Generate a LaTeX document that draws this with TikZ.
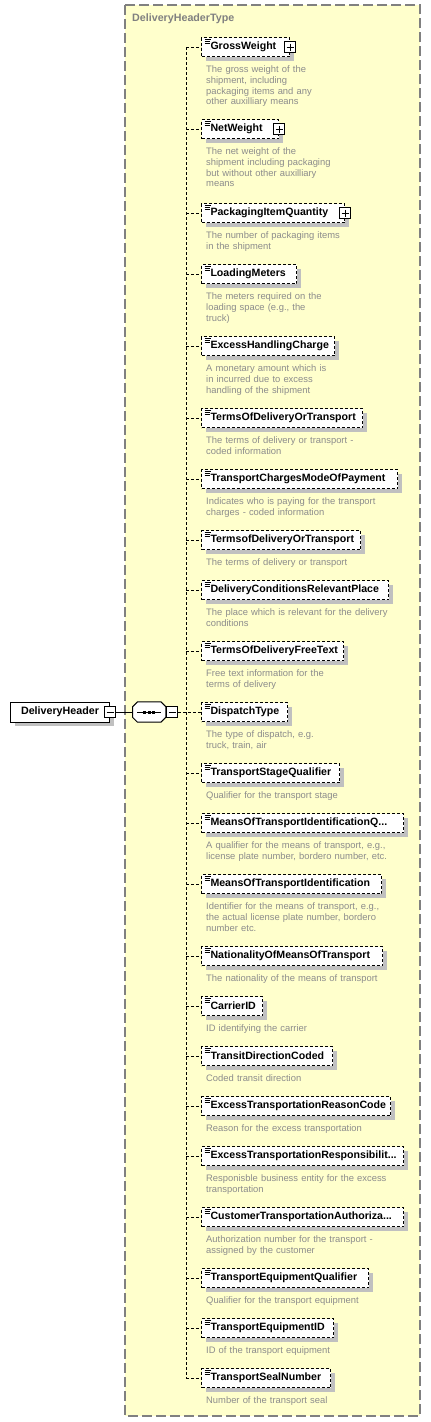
\documentclass[tikz,border=0pt]{standalone}
\usepackage{fontspec}
\newfontfamily\diafont{Liberation Sans}
\usetikzlibrary{
  positioning,
  shadows
}
\definecolor{TypeYellow}{RGB}{255,255,204}
\definecolor{FrameGray}{RGB}{128,128,128}
\definecolor{ShadowGray}{RGB}{192,192,192}
\definecolor{DocGray}{RGB}{140,140,140}
\tikzset{
  boxshadow/.style={
    drop shadow={shadow xshift=4pt, shadow yshift=-4pt, fill=ShadowGray, opacity=1}
  },
  typebox/.style={draw=FrameGray, fill=TypeYellow, line width=1.3pt, dash pattern=on 10pt off 4pt},
  typelabel/.style={anchor=base west, inner sep=0pt, text=FrameGray,
    font=\diafont\bfseries\fontsize{10.7pt}{13pt}\selectfont},
  rootbox/.style={
    draw,
    fill=white,
    line width=1pt,
    minimum width=99pt,
    minimum height=20pt,
    inner sep=0pt,
    font=\diafont\bfseries\fontsize{10.7pt}{13pt}\selectfont,
    boxshadow
  },
  elembox/.style={
    draw,
    line width=1pt,
    dash pattern=on 3pt off 2pt,
    fill=white,
    anchor=west,
    minimum height=19pt,
    inner xsep=9pt,
    inner ysep=0pt,
    align=left,
    font=\diafont\bfseries\fontsize{10.6pt}{13pt}\selectfont,
    boxshadow,
    path picture={
      \draw[solid, line width=0.8pt]
        ([xshift=3pt, yshift=-1.5pt]path picture bounding box.north west) -- ++(6pt,0pt)
        ([xshift=3pt, yshift=-3.5pt]path picture bounding box.north west) -- ++(5pt,0pt)
        ([xshift=3pt, yshift=-5.5pt]path picture bounding box.north west) -- ++(5pt,0pt);
    }
  },
  docnote/.style={anchor=base west, inner sep=0pt, text width=215pt, align=left, text=DocGray,
    font=\diafont\fontsize{9.4pt}{10.8pt}\selectfont},
  plusbox/.style={
    draw, solid, fill=white, line width=1pt, minimum size=11pt, inner sep=0pt,
    path picture={
      \draw[line width=1pt]
        ([xshift=2pt]path picture bounding box.west) -- ([xshift=-2pt]path picture bounding box.east)
        ([yshift=-2pt]path picture bounding box.north) -- ([yshift=2pt]path picture bounding box.south);
    }
  },
  minusbox/.style={
    draw, solid, fill=white, line width=1pt, minimum size=11pt, inner sep=0pt,
    path picture={
      \draw[line width=1pt]
        ([xshift=2pt]path picture bounding box.west) -- ([xshift=-2pt]path picture bounding box.east);
    }
  },
  seqbox/.style={minimum width=33pt, minimum height=20pt, inner sep=0pt},
  octagon/.style={line width=1pt},
  solidlink/.style={draw, line width=1pt},
  dashlink/.style={draw, line width=1pt, dash pattern=on 3pt off 2pt}
}
\begin{document}
\begin{tikzpicture}[x=1pt, y=-1pt]
  \useasboundingbox (0,0) rectangle (431,1422);
  \draw[typebox] (125,5) rectangle (420,1416);
  \node[typelabel] (typename) at (132,21) {DeliveryHeaderType};

  % root element and sequence
  \node[rootbox, anchor=west] (header) at (10,712) {DeliveryHeader};
  \node[minusbox] (headerminus) at (header.east) {};
  \node[seqbox, right=16.5pt of headerminus] (seq) {};
  \fill[ShadowGray, shift={(4,4)}]
    ([xshift=5pt]seq.north west) -- ([xshift=-5pt]seq.north east) -- ([yshift=-5pt]seq.north east)
    -- ([yshift=5pt]seq.south east) -- ([xshift=-5pt]seq.south east) -- ([xshift=5pt]seq.south west)
    -- ([yshift=5pt]seq.south west) -- ([yshift=-5pt]seq.north west) -- cycle;
  \filldraw[octagon, fill=white]
    ([xshift=5pt]seq.north west) -- ([xshift=-5pt]seq.north east) -- ([yshift=-5pt]seq.north east)
    -- ([yshift=5pt]seq.south east) -- ([xshift=-5pt]seq.south east) -- ([xshift=5pt]seq.south west)
    -- ([yshift=5pt]seq.south west) -- ([yshift=-5pt]seq.north west) -- cycle;
  \draw[line width=1pt] ([xshift=-12pt]seq.center) -- ([xshift=12pt]seq.center);
  \fill ([xshift=-6pt, yshift=-1.5pt]seq.center) rectangle ++(3pt,3pt);
  \fill ([xshift=-1.5pt, yshift=-1.5pt]seq.center) rectangle ++(3pt,3pt);
  \fill ([xshift=3pt, yshift=-1.5pt]seq.center) rectangle ++(3pt,3pt);
  \node[minusbox, right=0.5pt of seq] (seqminus) {};
  \coordinate (spine) at (186,712);

  % child elements
  \node[elembox, text width=70pt] (gross) at (201,47) {GrossWeight};
  \node[plusbox] (grossplus) at (gross.east) {};
  \node[docnote] (grossdoc) at ([xshift=5pt, yshift=-15.5pt]gross.south west) {The gross weight of the\\shipment, including\\packaging items and any\\other auxilliary means};

  \node[elembox, text width=59pt] (net) at (201,129) {NetWeight};
  \node[plusbox] (netplus) at (net.east) {};
  \node[docnote] (netdoc) at ([xshift=5pt, yshift=-15.5pt]net.south west) {The net weight of the\\shipment including packaging\\but without other auxilliary\\means};

  \node[elembox, text width=125pt] (pkgqty) at (201,213) {PackagingItemQuantity};
  \node[plusbox] (pkgqtyplus) at (pkgqty.east) {};
  \node[docnote] (pkgqtydoc) at ([xshift=5pt, yshift=-15.5pt]pkgqty.south west) {The number of packaging items\\in the shipment};

  \node[elembox, text width=77pt] (loadm) at (201,274) {LoadingMeters};
  \node[docnote] (loadmdoc) at ([xshift=5pt, yshift=-15.5pt]loadm.south west) {The meters required on the\\loading space (e.g., the\\truck)};

  \node[elembox, text width=115pt] (exhandl) at (201,346) {ExcessHandlingCharge};
  \node[docnote] (exhandldoc) at ([xshift=5pt, yshift=-15.5pt]exhandl.south west) {A monetary amount which is\\in incurred due to excess\\handling of the shipment};

  \node[elembox, text width=143pt] (termsdel) at (201,418) {TermsOfDeliveryOrTransport};
  \node[docnote] (termsdeldoc) at ([xshift=5pt, yshift=-15.5pt]termsdel.south west) {The terms of delivery or transport -\\coded information};

  \node[elembox, text width=178pt] (chgpay) at (201,479) {TransportChargesModeOfPayment};
  \node[docnote] (chgpaydoc) at ([xshift=5pt, yshift=-15.5pt]chgpay.south west) {Indicates who is paying for the transport\\charges - coded information};

  \node[elembox, text width=141pt] (termsof) at (201,540) {TermsofDeliveryOrTransport};
  \node[docnote] (termsofdoc) at ([xshift=5pt, yshift=-15.5pt]termsof.south west) {The terms of delivery or transport};

  \node[elembox, text width=169pt] (condplace) at (201,590) {DeliveryConditionsRelevantPlace};
  \node[docnote] (condplacedoc) at ([xshift=5pt, yshift=-15.5pt]condplace.south west) {The place which is relevant for the delivery\\conditions};

  \node[elembox, text width=124pt] (freetext) at (201,651) {TermsOfDeliveryFreeText};
  \node[docnote] (freetextdoc) at ([xshift=5pt, yshift=-15.5pt]freetext.south west) {Free text information for the\\terms of delivery};

  \node[elembox, text width=68pt] (dispatch) at (201,712) {DispatchType};
  \node[docnote] (dispatchdoc) at ([xshift=5pt, yshift=-15.5pt]dispatch.south west) {The type of dispatch, e.g.\\truck, train, air};

  \node[elembox, text width=120pt] (stagequal) at (201,773) {TransportStageQualifier};
  \node[docnote] (stagequaldoc) at ([xshift=5pt, yshift=-15.5pt]stagequal.south west) {Qualifier for the transport stage};

  \node[elembox, text width=184pt] (meansqual) at (201,823) {MeansOfTransportIdentificationQ...};
  \node[docnote] (meansqualdoc) at ([xshift=5pt, yshift=-15.5pt]meansqual.south west) {A qualifier for the means of transport, e.g.,\\license plate number, bordero number, etc.};

  \node[elembox, text width=162pt] (meansid) at (201,884) {MeansOfTransportIdentification};
  \node[docnote] (meansiddoc) at ([xshift=5pt, yshift=-15.5pt]meansid.south west) {Identifier for the means of transport, e.g.,\\the actual license plate number, bordero\\number etc.};

  \node[elembox, text width=163pt] (nation) at (201,956) {NationalityOfMeansOfTransport};
  \node[docnote] (nationdoc) at ([xshift=5pt, yshift=-15.5pt]nation.south west) {The nationality of the means of transport};

  \node[elembox, text width=43pt] (carrier) at (201,1006) {CarrierID};
  \node[docnote] (carrierdoc) at ([xshift=5pt, yshift=-15.5pt]carrier.south west) {ID identifying the carrier};

  \node[elembox, text width=113pt] (transit) at (201,1056) {TransitDirectionCoded};
  \node[docnote] (transitdoc) at ([xshift=5pt, yshift=-15.5pt]transit.south west) {Coded transit direction};

  \node[elembox, text width=171pt] (exreason) at (201,1106) {ExcessTransportationReasonCode};
  \node[docnote] (exreasondoc) at ([xshift=5pt, yshift=-15.5pt]exreason.south west) {Reason for the excess transportation};

  \node[elembox, text width=184pt] (exresp) at (201,1156) {ExcessTransportationResponsibilit...};
  \node[docnote] (exrespdoc) at ([xshift=5pt, yshift=-15.5pt]exresp.south west) {Responisble business entity for the excess\\transportation};

  \node[elembox, text width=184pt] (custauth) at (201,1217) {CustomerTransportationAuthoriza...};
  \node[docnote] (custauthdoc) at ([xshift=5pt, yshift=-15.5pt]custauth.south west) {Authorization number for the transport -\\assigned by the customer};

  \node[elembox, text width=149pt] (equipqual) at (201,1278) {TransportEquipmentQualifier};
  \node[docnote] (equipqualdoc) at ([xshift=5pt, yshift=-15.5pt]equipqual.south west) {Qualifier for the transport equipment};

  \node[elembox, text width=114pt] (equipid) at (201,1328) {TransportEquipmentID};
  \node[docnote] (equipiddoc) at ([xshift=5pt, yshift=-15.5pt]equipid.south west) {ID of the transport equipment};

  \node[elembox, text width=111pt] (sealno) at (201,1378) {TransportSealNumber};
  \node[docnote] (sealnodoc) at ([xshift=5pt, yshift=-15.5pt]sealno.south west) {Number of the transport seal};

  % connectors
  \draw[solidlink] (headerminus) -- (seq);
  \draw[dashlink] (seqminus) -- (dispatch);
  \draw[dashlink] (gross.west -| spine) -- (sealno.west -| spine);
  \draw[dashlink] (gross.west -| spine) -- (gross.west);
  \draw[dashlink] (net.west -| spine) -- (net.west);
  \draw[dashlink] (pkgqty.west -| spine) -- (pkgqty.west);
  \draw[dashlink] (loadm.west -| spine) -- (loadm.west);
  \draw[dashlink] (exhandl.west -| spine) -- (exhandl.west);
  \draw[dashlink] (termsdel.west -| spine) -- (termsdel.west);
  \draw[dashlink] (chgpay.west -| spine) -- (chgpay.west);
  \draw[dashlink] (termsof.west -| spine) -- (termsof.west);
  \draw[dashlink] (condplace.west -| spine) -- (condplace.west);
  \draw[dashlink] (freetext.west -| spine) -- (freetext.west);
  \draw[dashlink] (stagequal.west -| spine) -- (stagequal.west);
  \draw[dashlink] (meansqual.west -| spine) -- (meansqual.west);
  \draw[dashlink] (meansid.west -| spine) -- (meansid.west);
  \draw[dashlink] (nation.west -| spine) -- (nation.west);
  \draw[dashlink] (carrier.west -| spine) -- (carrier.west);
  \draw[dashlink] (transit.west -| spine) -- (transit.west);
  \draw[dashlink] (exreason.west -| spine) -- (exreason.west);
  \draw[dashlink] (exresp.west -| spine) -- (exresp.west);
  \draw[dashlink] (custauth.west -| spine) -- (custauth.west);
  \draw[dashlink] (equipqual.west -| spine) -- (equipqual.west);
  \draw[dashlink] (equipid.west -| spine) -- (equipid.west);
  \draw[dashlink] (sealno.west -| spine) -- (sealno.west);
\end{tikzpicture}
\end{document}
